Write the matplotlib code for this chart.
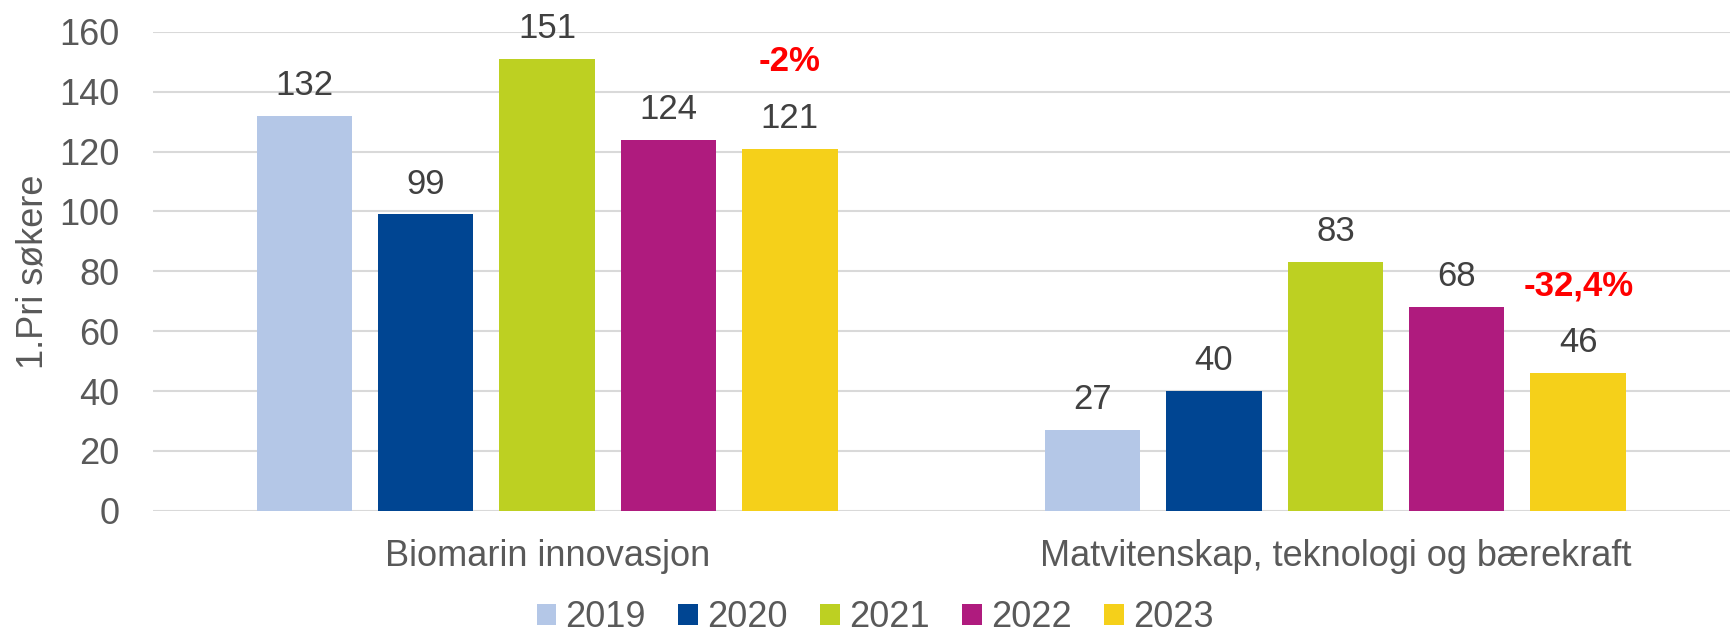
import matplotlib

matplotlib.use("Agg")
import matplotlib.pyplot as plt
import numpy as np

categories = ["Biomarin innovasjon", "Matvitenskap, teknologi og bærekraft"]
years = ["2019", "2020", "2021", "2022", "2023"]
values = {
    "2019": [132, 27],
    "2020": [99, 40],
    "2021": [151, 83],
    "2022": [124, 68],
    "2023": [121, 46],
}
changes = ["-2%", "-32,4%"]
colors = ["#B4C7E7", "#004592", "#BDD022", "#AF1B7E", "#F5D01A"]

plt.rcParams["font.family"] = ["Liberation Sans", "DejaVu Sans"]

fig = plt.figure(figsize=(17.33, 6.37), dpi=100)
ax = fig.add_axes([0.0883, 0.198, 0.9097, 0.752])

x = np.arange(len(categories))
pitch = 0.154
width = 0.121
for i, year in enumerate(years):
    pos = x + (i - 2) * pitch
    bars = ax.bar(pos, values[year], width=width, color=colors[i], label=year, zorder=2)
    for b, v in zip(bars, values[year]):
        ax.annotate(str(v), (b.get_x() + b.get_width() / 2, v), xytext=(0, 10),
                    textcoords="offset points", ha="center", va="bottom",
                    fontsize=25, color="#404040")
    if year == years[-1]:
        for b, v, c in zip(bars, values[year], changes):
            ax.annotate(c, (b.get_x() + b.get_width() / 2, v), xytext=(0, 51),
                        textcoords="offset points", ha="center", va="bottom",
                        fontsize=25, color="#FF0000", fontweight="bold")

ax.set_xlim(-0.5, 1.5)
ax.set_ylim(0, 160)
ax.set_yticks(range(0, 161, 20))
ax.set_xticks(x)
ax.set_xticklabels(categories)
ax.yaxis.grid(True, color="#D9D9D9", linewidth=1.5, zorder=0)
ax.set_axisbelow(True)
for s in ax.spines.values():
    s.set_visible(False)
ax.tick_params(axis="both", length=0, labelsize=26, labelcolor="#595959")
ax.tick_params(axis="x", pad=20)
ax.tick_params(axis="y", pad=24)
ax.set_ylabel("1.Pri søkere", fontsize=26, color="#595959", labelpad=6)

fig.legend(loc="center", bbox_to_anchor=(0.505, 0.03), ncol=5, frameon=False,
           fontsize=26, labelcolor="#595959", handlelength=0.55, handleheight=0.55,
           handletextpad=0.25, columnspacing=0.9, borderpad=0.1)

fig.savefig("out.png", dpi=100)
